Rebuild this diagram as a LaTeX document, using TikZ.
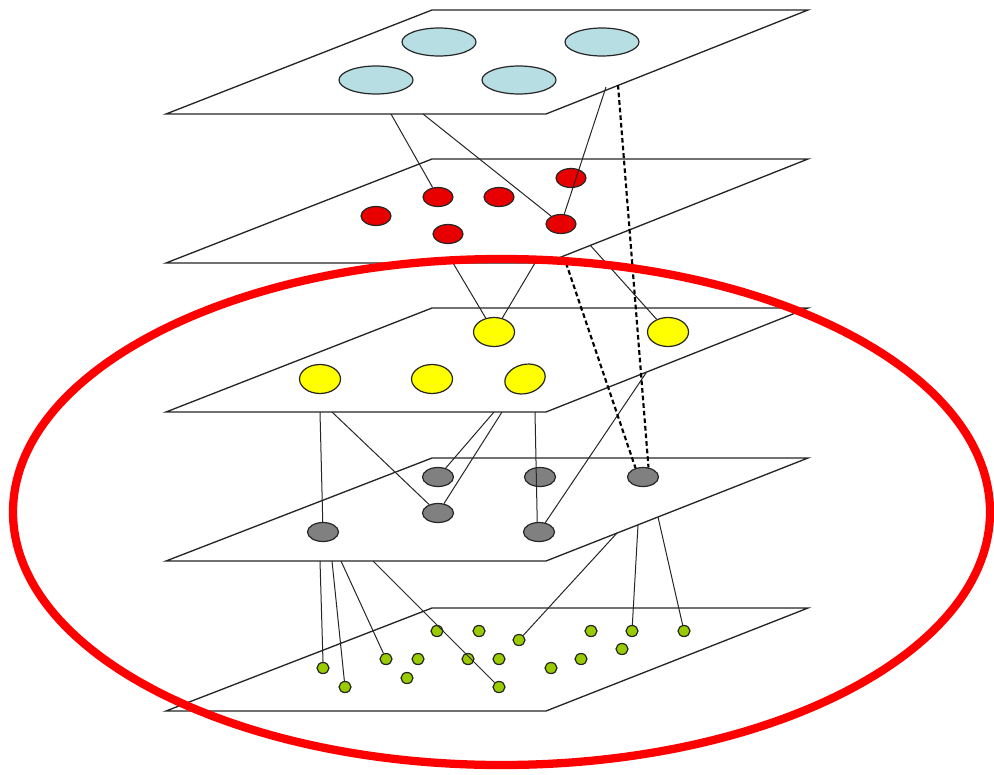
\documentclass[tikz,border=0pt]{standalone}
\usetikzlibrary{shapes.geometric}
\definecolor{nblue}{RGB}{183,222,226}
\definecolor{nred}{RGB}{232,0,0}
\definecolor{nyellow}{RGB}{255,255,0}
\definecolor{ngray}{RGB}{128,128,128}
\definecolor{ngreen}{RGB}{153,204,0}
\definecolor{ringred}{RGB}{255,0,0}
\tikzset{
  plane/.style={draw=black!85, line width=1pt, fill=white},
  blob/.style={ellipse, draw=black!85, line width=0.9pt, inner sep=0pt},
  bnode/.style={blob, fill=nblue, minimum width=55.5pt, minimum height=21pt},
  rnode/.style={blob, fill=nred, minimum width=22.5pt, minimum height=14.25pt},
  ynode/.style={blob, fill=nyellow, minimum width=30.75pt, minimum height=21.75pt},
  gnode/.style={blob, fill=ngray, minimum width=23.25pt, minimum height=14.25pt},
  dnode/.style={blob, fill=ngreen, minimum width=9pt, minimum height=8.25pt},
  link/.style={draw=black!85, line width=0.75pt},
  dlink/.style={draw=black, line width=1.6pt, dash pattern=on 3.5pt off 2.2pt},
  ring/.style={draw=ringred, line width=6.2pt}
}
\begin{document}
\begin{tikzpicture}[x=0.75pt,y=-0.75pt]
\useasboundingbox (0,0) rectangle (994,774);
% planes
\foreach \t/\b in {10/114,159/263,308/412,458/561,608/711}{
  \draw[plane] (166,\b) -- (546,\b) -- (808,\t) -- (432,\t) -- cycle;
}
% layer 1
\node[bnode] (b1) at (439,42) {};
\node[bnode] (b2) at (602,42) {};
\node[bnode] (b3) at (376,80) {};
\node[bnode] (b4) at (519,80) {};
% layer 2
\node[rnode] (r1) at (438,197) {};
\node[rnode] (r2) at (499,197) {};
\node[rnode] (r3) at (571,178) {};
\node[rnode] (r4) at (376,216) {};
\node[rnode] (r5) at (448,234) {};
\node[rnode] (r6) at (561,224) {};
% layer 3
\node[ynode] (y1) at (494,332) {};
\node[ynode] (y2) at (668,332) {};
\node[ynode] (y3) at (320,379) {};
\node[ynode] (y4) at (432,379) {};
\node[ynode, rotate=15] (y5) at (525,379) {};
% layer 4
\node[gnode] (g1) at (438,477) {};
\node[gnode] (g2) at (540,477) {};
\node[gnode] (g3) at (643,477) {};
\node[gnode] (g4) at (438,513) {};
\node[gnode] (g5) at (323,532) {};
\node[gnode] (g6) at (539,532) {};
% layer 5
\node[dnode] (d1) at (437,631) {};
\node[dnode] (d2) at (479,631) {};
\node[dnode] (d3) at (519,640) {};
\node[dnode] (d4) at (591,631) {};
\node[dnode] (d5) at (632,631) {};
\node[dnode] (d6) at (684,631) {};
\node[dnode] (d7) at (323,668) {};
\node[dnode] (d8) at (386,659) {};
\node[dnode] (d9) at (418,659) {};
\node[dnode] (d10) at (468,659) {};
\node[dnode] (d11) at (499,659) {};
\node[dnode] (d12) at (551,668) {};
\node[dnode] (d13) at (581,659) {};
\node[dnode] (d14) at (622,649) {};
\node[dnode] (d15) at (345,687) {};
\node[dnode] (d16) at (407,678) {};
\node[dnode] (d17) at (499,687) {};
% free ends on the planes
\coordinate (p1a) at (391,114);
\coordinate (p1b) at (423,114);
\coordinate (p1c) at (606,87);
\coordinate (p1d) at (618,85);
\coordinate (p2a) at (453,263);
\coordinate (p2b) at (535,263);
\coordinate (p2c) at (590,245);
\coordinate (p2d) at (566,263);
\coordinate (p3a) at (320,412);
\coordinate (p3b) at (332,412);
\coordinate (p3c) at (494,412);
\coordinate (p3d) at (502,412);
\coordinate (p3e) at (535,412);
\coordinate (p3f) at (646,373);
\coordinate (p4a) at (320,561);
\coordinate (p4b) at (332,561);
\coordinate (p4c) at (341,561);
\coordinate (p4d) at (373,561);
\coordinate (p4e) at (617,533);
\coordinate (p4f) at (638,525);
\coordinate (p4g) at (658,517);
% connectors
\draw[link] (p1a) -- (r1);
\draw[link] (p1b) -- (r6);
\draw[link] (p1c) -- (r6);
\draw[link] (p2a) -- (y1);
\draw[link] (p2b) -- (y1);
\draw[link] (p2c) -- (y2);
\draw[link] (p3a) -- (g5);
\draw[link] (p3b) -- (g4);
\draw[link] (p3c) -- (g1);
\draw[link] (p3d) -- (g4);
\draw[link] (p3e) -- (g6.100);
\draw[link] (p3f) -- (g6);
\draw[link] (p4a) -- (d7.north);
\draw[link] (p4b) -- (d15);
\draw[link] (p4c) -- (d8);
\draw[link] (p4d) -- (d17);
\draw[link] (p4e) -- (d3);
\draw[link] (p4f) -- (d5);
\draw[link] (p4g) -- (d6);
\draw[dlink] (p1d) -- (g3.60);
\draw[dlink] (p2d) -- (g3.130);
% red ring
\draw[ring] (501.5,512) ellipse [x radius=488.5, y radius=253];
\end{tikzpicture}
\end{document}
